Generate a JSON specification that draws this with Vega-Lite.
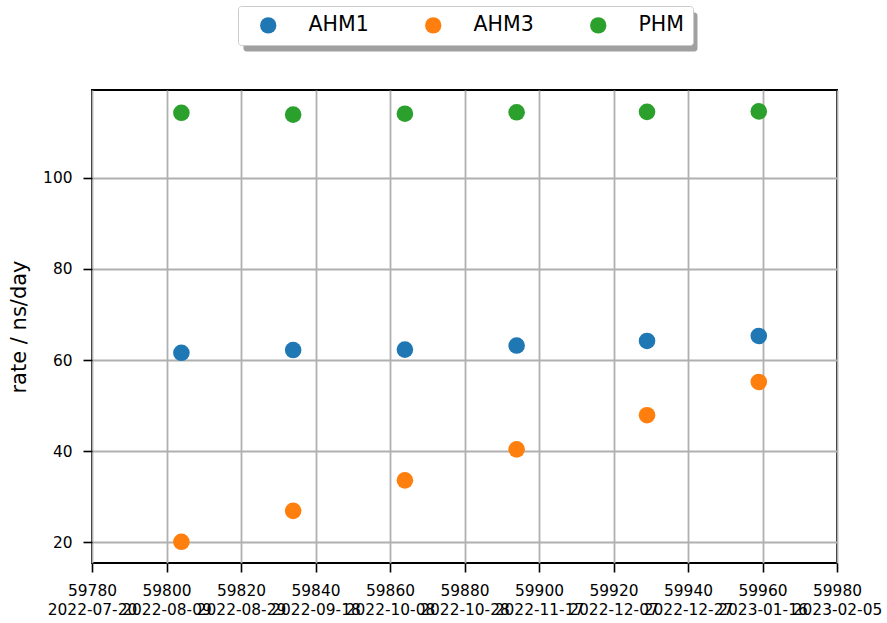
{
  "$schema": "https://vega.github.io/schema/vega-lite/v6.json",
  "width": 745,
  "height": 473,
  "autosize": {"type": "none"},
  "padding": {"left": 92, "top": 90, "right": 50, "bottom": 60},
  "background": "white",
  "config": {
    "font": "DejaVu Sans",
    "view": {"stroke": "black", "strokeWidth": 2},
    "axis": {
      "domain": false,
      "grid": true,
      "gridColor": "#b0b0b0",
      "gridWidth": 1.8,
      "tickColor": "black",
      "tickWidth": 1.6,
      "tickSize": 9,
      "labelColor": "black",
      "labelFont": "DejaVu Sans",
      "labelFontSize": 15.4,
      "titleFont": "DejaVu Sans",
      "titleFontWeight": "normal",
      "titleColor": "black"
    }
  },
  "data": {
    "values": [
      {"mjd": 59804, "rate": 61.6, "series": "AHM1"},
      {"mjd": 59834, "rate": 62.2, "series": "AHM1"},
      {"mjd": 59864, "rate": 62.3, "series": "AHM1"},
      {"mjd": 59894, "rate": 63.2, "series": "AHM1"},
      {"mjd": 59929, "rate": 64.2, "series": "AHM1"},
      {"mjd": 59959, "rate": 65.3, "series": "AHM1"},
      {"mjd": 59804, "rate": 20.1, "series": "AHM3"},
      {"mjd": 59834, "rate": 26.9, "series": "AHM3"},
      {"mjd": 59864, "rate": 33.6, "series": "AHM3"},
      {"mjd": 59894, "rate": 40.4, "series": "AHM3"},
      {"mjd": 59929, "rate": 47.9, "series": "AHM3"},
      {"mjd": 59959, "rate": 55.2, "series": "AHM3"},
      {"mjd": 59804, "rate": 114.3, "series": "PHM"},
      {"mjd": 59834, "rate": 113.9, "series": "PHM"},
      {"mjd": 59864, "rate": 114.1, "series": "PHM"},
      {"mjd": 59894, "rate": 114.4, "series": "PHM"},
      {"mjd": 59929, "rate": 114.5, "series": "PHM"},
      {"mjd": 59959, "rate": 114.6, "series": "PHM"}
    ]
  },
  "mark": {"type": "point", "filled": true, "size": 275, "opacity": 1, "strokeWidth": 0},
  "encoding": {
    "x": {
      "field": "mjd",
      "type": "quantitative",
      "scale": {"domain": [59780, 59980], "nice": false, "zero": false},
      "axis": {
        "title": null,
        "values": [59780, 59800, 59820, 59840, 59860, 59880, 59900, 59920, 59940, 59960, 59980],
        "labelExpr": "[format(datum.value, 'd'), utcFormat((datum.value - 40587) * 86400000, '%Y-%m-%d')]",
        "labelOverlap": false,
        "labelBound": false,
        "labelFlush": false,
        "labelPadding": 11,
        "labelLineHeight": 19
      }
    },
    "y": {
      "field": "rate",
      "type": "quantitative",
      "scale": {"domain": [15.45, 119.3], "nice": false, "zero": false},
      "axis": {
        "title": "rate / ns/day",
        "titleFontSize": 21,
        "titlePadding": 13,
        "values": [20, 40, 60, 80, 100],
        "labelPadding": 11
      }
    },
    "color": {
      "field": "series",
      "type": "nominal",
      "scale": {"domain": ["AHM1", "AHM3", "PHM"], "range": ["#1f77b4", "#ff7f0e", "#2ca02c"]},
      "legend": {
        "title": null,
        "orient": "none",
        "legendX": 146,
        "legendY": -84,
        "zindex": 2,
        "direction": "horizontal",
        "columns": 3,
        "padding": 9,
        "strokeColor": "#cccccc",
        "fillColor": "white",
        "cornerRadius": 3,
        "symbolType": "circle",
        "symbolSize": 265,
        "symbolOffset": 11,
        "symbolOpacity": 1,
        "symbolStrokeWidth": 0,
        "labelFont": "DejaVu Sans",
        "labelFontSize": 20.5,
        "labelColor": "black",
        "labelOffset": 30,
        "columnPadding": 43
      }
    },
    "shape": {
      "field": "series",
      "type": "nominal",
      "scale": {"range": ["circle", "circle", "circle"]},
      "legend": {
        "title": null,
        "orient": "none",
        "legendX": 151,
        "legendY": -78,
        "zindex": 1,
        "direction": "horizontal",
        "columns": 3,
        "padding": 9,
        "strokeColor": "transparent",
        "fillColor": "#a0a0a0",
        "cornerRadius": 3,
        "symbolType": "circle",
        "symbolSize": 314,
        "symbolOffset": 11,
        "symbolOpacity": 0,
        "symbolStrokeWidth": 0,
        "labelExpr": "''",
        "labelFontSize": 20.5,
        "labelOffset": 0,
        "columnPadding": 170
      }
    }
  }
}
